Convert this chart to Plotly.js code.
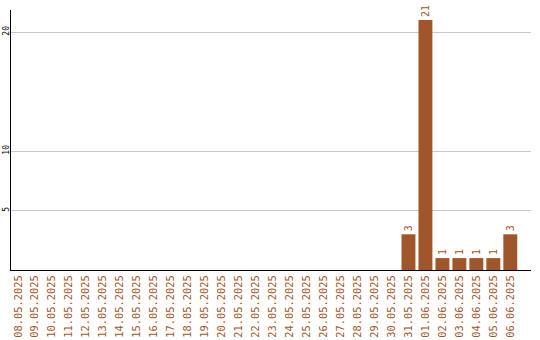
<!DOCTYPE html>
<html>
<head>
<meta charset="utf-8">
<script src="https://cdn.plot.ly/plotly-3.0.1.min.js"></script>
<style>
  html, body { margin: 0; padding: 0; background: #fff; }
  #chart { width: 540px; height: 340px; }
</style>
</head>
<body>
<div id="chart"></div>
<script>
// Daily counts, 08.05.2025 – 06.06.2025
const dates = [
  '08.05.2025', '09.05.2025', '10.05.2025', '11.05.2025', '12.05.2025',
  '13.05.2025', '14.05.2025', '15.05.2025', '16.05.2025', '17.05.2025',
  '18.05.2025', '19.05.2025', '20.05.2025', '21.05.2025', '22.05.2025',
  '23.05.2025', '24.05.2025', '25.05.2025', '26.05.2025', '27.05.2025',
  '28.05.2025', '29.05.2025', '30.05.2025', '31.05.2025', '01.06.2025',
  '02.06.2025', '03.06.2025', '04.06.2025', '05.06.2025', '06.06.2025'
];
const counts = [
  0, 0, 0, 0, 0,
  0, 0, 0, 0, 0,
  0, 0, 0, 0, 0,
  0, 0, 0, 0, 0,
  0, 0, 0, 3, 21,
  1, 1, 1, 1, 3
];
const yTicks = [5, 10, 20];

const barColor = '#A0562B';
const monoFont = 'DejaVu Sans Mono, Liberation Mono, monospace';

const trace = {
  type: 'bar',
  x: dates,
  y: counts,
  marker: { color: barColor },
  text: counts.map(v => (v > 0 ? String(v) : '')),
  textposition: 'outside',
  textangle: -90,
  textfont: { family: monoFont, size: 10, color: barColor },
  cliponaxis: false,
  hoverinfo: 'x+y'
};

const layout = {
  width: 540,
  height: 340,
  margin: { l: 11, r: 9, t: 10, b: 70 },
  paper_bgcolor: '#fff',
  plot_bgcolor: '#fff',
  showlegend: false,
  bargap: 0.18,
  font: { family: monoFont, size: 10, color: '#000' },
  xaxis: {
    type: 'category',
    range: [-0.42, 30.22],
    showgrid: false,
    showline: true,
    linecolor: '#000',
    linewidth: 1,
    ticks: '',
    tickangle: -90,
    tickfont: { family: monoFont, size: 10.4, color: barColor },
    zeroline: false,
    fixedrange: true
  },
  yaxis: {
    range: [0, 21.85],
    tickmode: 'array',
    tickvals: yTicks,
    ticktext: yTicks.map(String),
    tickangle: -90,
    ticklabelstandoff: -2,
    tickfont: { family: monoFont, size: 8, color: '#000' },
    showgrid: true,
    gridcolor: '#c8c8c8',
    gridwidth: 1,
    showline: true,
    linecolor: '#000',
    linewidth: 1,
    ticks: '',
    zeroline: false,
    fixedrange: true
  }
};

Plotly.newPlot('chart', [trace], layout, { displayModeBar: false, staticPlot: true });
</script>
</body>
</html>
